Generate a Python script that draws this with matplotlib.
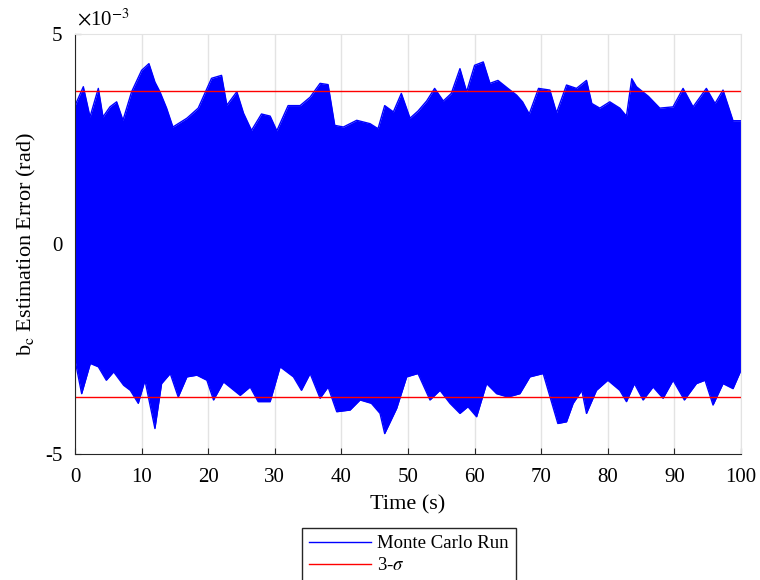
import numpy as np
import matplotlib.pyplot as plt

plt.rcParams['font.family'] = ['Liberation Serif', 'DejaVu Serif']
plt.rcParams['mathtext.fontset'] = 'stix'
plt.rcParams['axes.unicode_minus'] = False

# upper envelope of the Monte Carlo runs (x1e-3 rad)
t_up = [0, 1.25, 2.25, 3.5, 4.2, 5.25, 6.25, 7.2, 8.5, 10, 11.1, 12, 12.75, 13.75,
        14.7, 16.8, 18.5, 20.5, 22, 22.8, 24.3, 25.3, 26.5, 28, 29.3, 30.3, 32,
        33.8, 35.3, 36.8, 38, 39, 40.3, 42.3, 44.3, 45.5, 46.5, 47.8, 49, 50.3,
        51.5, 52.8, 54, 55.3, 56.5, 57.8, 58.8, 60, 61.3, 62.3, 63.5, 65, 66.3,
        67.2, 68.2, 69.6, 71.3, 72.3, 73.8, 75.3, 76.8, 77.6, 78.8, 80.3, 81.8,
        82.8, 83.6, 84.3, 86.1, 87.8, 89.8, 91.3, 92.8, 94.8, 96.1, 97.3, 98.8, 100]
upper = [3.3, 3.75, 3.03, 3.71, 3.03, 3.27, 3.39, 2.95, 3.63, 4.14, 4.30, 3.86, 3.63, 3.24,
         2.79, 3.0, 3.24, 3.95, 4.02, 3.31, 3.63, 3.12, 2.71, 3.1, 3.05, 2.7, 3.3,
         3.3, 3.5, 3.83, 3.8, 2.83, 2.79, 2.95, 2.87, 2.75, 3.3, 3.15, 3.59, 3.0,
         3.17, 3.41, 3.71, 3.41, 3.59, 4.18, 3.63, 4.26, 4.34, 3.83, 3.9, 3.71, 3.55,
         3.39, 3.1, 3.71, 3.67, 3.13, 3.79, 3.71, 3.9, 3.35, 3.24, 3.39, 3.24,
         3.05, 3.94, 3.75, 3.52, 3.24, 3.27, 3.71, 3.27, 3.71, 3.35, 3.67, 2.94, 2.94]

# lower envelope (x1e-3 rad)
t_lo = [0, 1, 2.3, 3.5, 4.7, 5.8, 7.3, 8.3, 9.5, 10.5, 12, 13, 14.3, 15.5, 16.8,
        18.3, 19.8, 20.8, 22.3, 24.8, 26.3, 27.5, 29.3, 30.8, 32.8, 34, 35.3,
        36.8, 38, 39.3, 41.3, 42.8, 44.5, 45.8, 46.5, 48.3, 49.8, 51.5, 53.3,
        54.8, 56.3, 57.8, 59, 60.3, 61.8, 63.3, 65, 66.8, 68.3, 70.3, 72.5, 73.8,
        74.8, 76.1, 76.8, 78.3, 80, 81.8, 82.8, 84, 85.3, 86.8, 88.3, 89.8, 91.5,
        93.3, 94.6, 95.8, 97.3, 98.8, 100]
lower = [-2.76, -3.56, -2.84, -2.92, -3.24, -3.04, -3.36, -3.48, -3.79, -3.24, -4.39, -3.32, -3.08, -3.64, -3.16,
         -3.12, -3.24, -3.71, -3.28, -3.6, -3.4, -3.75, -3.75, -2.92, -3.16, -3.48, -3.08,
         -3.67, -3.4, -3.99, -3.95, -3.71, -3.79, -4.03, -4.51, -3.91, -3.16, -3.08, -3.71,
         -3.48, -3.79, -4.03, -3.87, -4.11, -3.32, -3.56, -3.64, -3.56, -3.16, -3.08, -4.27, -4.23,
         -3.79, -3.48, -4.03, -3.48, -3.24, -3.48, -3.75, -3.32, -3.71, -3.4, -3.67, -3.24, -3.71,
         -3.32, -3.24, -3.83, -3.32, -3.44, -3.0]

sigma3 = 3.64   # 3-sigma bound, x1e-3 rad

tt = np.union1d(t_up, t_lo)
up_i = np.interp(tt, t_up, upper)
lo_i = np.interp(tt, t_lo, lower)

fig = plt.figure(figsize=(7.6, 5.8), dpi=100)
ax = fig.add_axes([0.0987, 0.217, 0.8763, 0.724])

ax.fill_between(tt, lo_i, up_i, color='#0000ff', lw=0)
ax.plot(t_up, upper, color='#0000ff', lw=1)
ax.plot(t_lo, lower, color='#0000ff', lw=1)
mc, = ax.plot([], [], color='#0000ff', lw=1, label='Monte Carlo Run')
ax.axhline(sigma3, color='#ff0000', lw=1)
sg = ax.axhline(-sigma3, color='#ff0000', lw=1, label=r'3-$\sigma$')

ax.set_xlim(0, 100)
ax.set_ylim(-5, 5)
ax.set_xticks(np.arange(0, 101, 10))
ax.set_yticks([-5, 0, 5])
ax.set_yticklabels(['-5', '0', '5'])
ax.text(0.003, 1.01, r'$\times$10$^{\mathrm{-3}}$', transform=ax.transAxes, fontsize=15,
        ha='left', va='bottom')
ax.tick_params(direction='in', labelsize=15, color='#262626', length=4)
ax.tick_params(axis='x', pad=10)
ax.tick_params(axis='y', pad=9)
ax.xaxis.grid(True, color='#e3e3e3', lw=1)
ax.set_axisbelow(True)
for s in ['left', 'bottom']:
    ax.spines[s].set_color('#262626')
for s in ['top', 'right']:
    ax.spines[s].set_color('#e3e3e3')

ax.set_xlabel('Time (s)', fontsize=16, labelpad=6)
ax.set_ylabel(r'b$_\mathrm{c}$ Estimation Error (rad)', fontsize=16, labelpad=5)

fig.legend(handles=[mc, sg], loc='upper center', bbox_to_anchor=(0.538, 0.09),
           fancybox=False, edgecolor='#262626', fontsize=13.5, framealpha=1,
           borderpad=0.4, labelspacing=0.25, handlelength=3.3, handletextpad=0.3,
           borderaxespad=0)

fig.savefig('out.png', dpi=100)
